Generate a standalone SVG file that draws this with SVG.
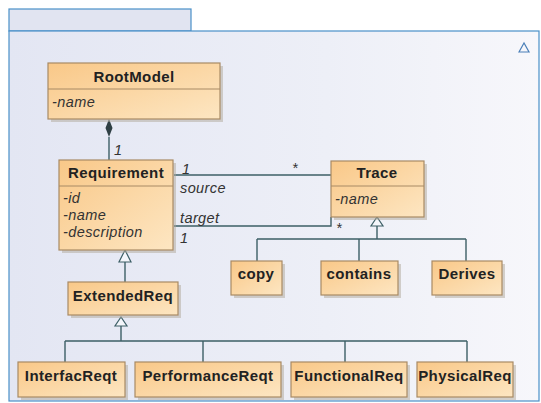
<svg xmlns="http://www.w3.org/2000/svg" width="541" height="403" viewBox="0 0 541 403">
<style>
.box{fill:url(#og);stroke:#a88a64;stroke-width:1.2}
.sh{fill:#b0a89a;opacity:0.5}
.t{font-family:"Liberation Sans",Arial,sans-serif;font-weight:bold;font-size:15px;letter-spacing:0.4px;fill:#222;text-anchor:middle}
.a{font-family:"Liberation Sans",Arial,sans-serif;font-style:italic;font-size:14.5px;letter-spacing:0.4px;fill:#333}
.ln{fill:none;stroke:#3d5f66;stroke-width:1.4}
.gen{fill:#f4f6fb;stroke:#3d5f66;stroke-width:1.2}
</style>
<defs>
<linearGradient id="og" x1="0" y1="0" x2="1" y2="1">
<stop offset="0" stop-color="#f9c888"/>
<stop offset="1" stop-color="#fde6c2"/>
</linearGradient>
<linearGradient id="bg" x1="0" y1="0" x2="1" y2="0">
<stop offset="0" stop-color="#e3e6f3"/>
<stop offset="0.6" stop-color="#edeff7"/>
<stop offset="1" stop-color="#f7f7fb"/>
</linearGradient>
</defs>
<rect width="541" height="403" fill="#fff"/>
<g id="package">
<rect x="9" y="9" width="182" height="22" fill="#e1e4f1" stroke="#4a90c8" stroke-width="1.2"/>
<rect x="9" y="31" width="530" height="370" fill="url(#bg)" stroke="#4a90c8" stroke-width="1.2"/>
<path d="M519 52 L524 43 L529 52 Z" fill="none" stroke="#4a7fb8" stroke-width="1.2"/>
</g>
<g id="connectors">
<path class="ln" d="M109 137 V160"/>
<path d="M109 119 L112.5 128 L109 137 L105.5 128 Z" fill="#2f3f44"/>
<path class="ln" d="M174 175 H331"/>
<path class="ln" d="M174 226 H331 V217"/>
<path class="ln" d="M125 262 V282"/>
<path class="gen" d="M125 250 L131 262 L119 262 Z"/>
<path class="ln" d="M377 226 V239 M257 239 H466 M257 239 V261 M359 239 V261 M466 239 V261"/>
<path class="gen" d="M377 217 L383 226 L371 226 Z"/>
<path class="ln" d="M121 326 V341 M65 341 H467 M65 341 V362 M203 341 V362 M345 341 V362 M467 341 V362"/>
<path class="gen" d="M121 317 L127 326 L115 326 Z"/>
<g class="a" font-size="14">
<text x="114" y="155">1</text>
<text x="182" y="174">1</text>
<text x="292" y="173">*</text>
<text x="180" y="193">source</text>
<text x="180" y="223">target</text>
<text x="180" y="243">1</text>
<text x="336" y="233">*</text>
</g>
</g>
<g id="RootModel">
<rect class="sh" x="51" y="66" width="172" height="56"/>
<rect class="box" x="48" y="63" width="172" height="56"/>
<line x1="48" y1="89" x2="220" y2="89" stroke="#a88a64"/>
<text class="t" x="134" y="82">RootModel</text>
<text class="a" x="52" y="107">-name</text>
</g>
<g id="Requirement">
<rect class="sh" x="62" y="163" width="114" height="90"/>
<rect class="box" x="59" y="160" width="114" height="90"/>
<line x1="59" y1="186" x2="173" y2="186" stroke="#a88a64"/>
<text class="t" x="116" y="178">Requirement</text>
<text class="a" x="63" y="203">-id</text>
<text class="a" x="63" y="220">-name</text>
<text class="a" x="63" y="237">-description</text>
</g>
<g id="Trace">
<rect class="sh" x="334" y="164" width="93" height="56"/>
<rect class="box" x="331" y="161" width="93" height="56"/>
<line x1="331" y1="186" x2="424" y2="186" stroke="#a88a64"/>
<text class="t" x="377" y="178">Trace</text>
<text class="a" x="335" y="204">-name</text>
</g>
<g id="copy">
<rect class="sh" x="234" y="264" width="51" height="34"/>
<rect class="box" x="231" y="261" width="51" height="34"/>
<text class="t" x="256" y="279">copy</text>
</g>
<g id="contains">
<rect class="sh" x="324" y="264" width="77" height="34"/>
<rect class="box" x="321" y="261" width="77" height="34"/>
<text class="t" x="359" y="279">contains</text>
</g>
<g id="Derives">
<rect class="sh" x="435" y="264" width="70" height="34"/>
<rect class="box" x="432" y="261" width="70" height="34"/>
<text class="t" x="467" y="279">Derives</text>
</g>
<g id="ExtendedReq">
<rect class="sh" x="71" y="285" width="110" height="33"/>
<rect class="box" x="68" y="282" width="110" height="33"/>
<text class="t" x="123" y="301">ExtendedReq</text>
</g>
<g id="InterfacReqt">
<rect class="sh" x="21" y="365" width="107" height="35"/>
<rect class="box" x="18" y="362" width="107" height="35"/>
<text class="t" x="71" y="381">InterfacReqt</text>
</g>
<g id="PerformanceReqt">
<rect class="sh" x="138" y="365" width="146" height="35"/>
<rect class="box" x="135" y="362" width="146" height="35"/>
<text class="t" x="208" y="381">PerformanceReqt</text>
</g>
<g id="FunctionalReq">
<rect class="sh" x="294" y="365" width="116" height="35"/>
<rect class="box" x="291" y="362" width="116" height="35"/>
<text class="t" x="349" y="381">FunctionalReq</text>
</g>
<g id="PhysicalReq">
<rect class="sh" x="420" y="365" width="96" height="35"/>
<rect class="box" x="417" y="362" width="96" height="35"/>
<text class="t" x="465" y="381">PhysicalReq</text>
</g>
</svg>
